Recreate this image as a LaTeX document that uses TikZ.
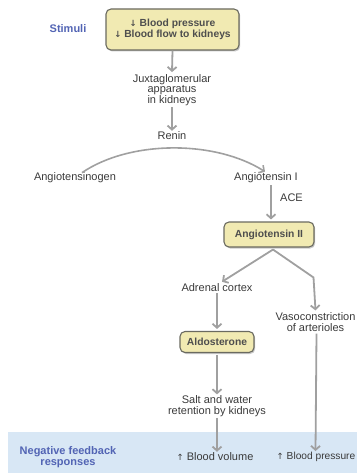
\documentclass[tikz,border=0pt]{standalone}
\usepackage{fontspec}
\setmainfont{Liberation Sans}
\newfontfamily\symfont{DejaVu Sans}
\usetikzlibrary{arrows.meta,shadows,calc}
\definecolor{boxfill}{HTML}{F1EAB2}
\definecolor{boxline}{HTML}{6A6A60}
\definecolor{arrowgray}{HTML}{A0A0A0}
\definecolor{labelblue}{HTML}{5264B4}
\definecolor{bandblue}{HTML}{D8E7F5}
\definecolor{txt}{HTML}{3A3A3A}
\newcommand{\dn}{{\symfont\fontsize{8.5}{8.5}\selectfont ↓}}
\newcommand{\upar}{{\symfont\fontsize{8.5}{8.5}\selectfont ↑}}
\tikzset{
  lbl/.style={font=\fontsize{11}{10.6}\selectfont, text=txt, align=center, inner sep=1pt},
  bluelbl/.style={font=\fontsize{11}{11}\selectfont\bfseries, text=labelblue, align=center, inner sep=1pt},
  ybox/.style={draw=boxline, line width=1.1pt, fill=boxfill, rounded corners=5pt,
    font=\fontsize{10.3}{11}\selectfont\bfseries, text=txt!90, align=center,
    drop shadow={shadow xshift=1.2pt, shadow yshift=-1.5pt, fill=black!35, opacity=0.6}},
  flow/.style={draw=arrowgray, line width=1.8pt, -{Straight Barb[length=4pt,width=9pt]}},
}
\begin{document}
\begin{tikzpicture}[x=1pt,y=-1pt]
\useasboundingbox (0,0) rectangle (357,473);
% band
\fill[bandblue] (8,432) rectangle (357,473);
% nodes
\node[bluelbl] (stim) at (68,29) {Stimuli};
\node[ybox, minimum width=133pt, minimum height=41pt] (bp) at (172.5,29.5) {\dn\ Blood pressure\\\dn\ Blood flow to kidneys};
\node[lbl] (jga) at (172,90) {Juxtaglomerular\\apparatus\\in kidneys};
\node[lbl] (renin) at (172,136) {Renin};
\node[lbl] (agen) at (75,178) {Angiotensinogen};
\node[lbl] (ang1) at (266,178) {Angiotensin I};
\node[lbl, anchor=west] (ace) at (279,198) {ACE};
\node[ybox, minimum width=90pt, minimum height=25pt] (ang2) at (269,234.5) {Angiotensin II};
\node[lbl] (adr) at (217,288) {Adrenal cortex};
\node[lbl] (vaso) at (315.5,322) {Vasoconstriction\\of arterioles};
\node[ybox, minimum width=74pt, minimum height=21pt] (ald) at (217,342) {Aldosterone};
\node[lbl] (salt) at (217,406) {Salt and water\\retention by kidneys};
\node[bluelbl] (neg) at (68,457) {Negative feedback\\responses};
\node[lbl] (bv) at (215,457) {\upar\ Blood volume};
\node[lbl, font=\fontsize{10.2}{10.6}\selectfont, anchor=east] (bpr) at (356.5,457) {\upar\ Blood pressure};
% connectors
\coordinate (arcs) at ($(agen.north)+(7,1)$);
\coordinate (arce) at ($(ang1.north)+(-1,0)$);
\coordinate (bend) at ($(vaso.north)+(-2,-34)$);
\draw[flow] (bp.south) -- ($(jga.north)+(0,-1)$);
\draw[flow] (jga.south) -- (renin.north);
\draw[draw=arrowgray, line width=1.6pt, -{Straight Barb[length=4pt,width=9pt]}] (arcs) .. controls (130,140) and (215,140) .. (arce);
\draw[flow] ($(ang1.south)+(5,1)$) -- ($(ang2.north)+(2,-2)$);
\draw[flow] ($(ang2.south)+(4,2)$) -- ($(adr.north)+(5,-1)$);
\draw[draw=arrowgray, line width=1.8pt, -{Straight Barb[length=4pt,width=9pt]}] ($(ang2.south)+(4,2)$) -- (bend) -- ($(vaso.north)+(0,-1)$);
\draw[flow] (adr.south) -- ($(ald.north)+(0,-2)$);
\draw[flow] ($(ald.south)+(0,2)$) -- (salt.north);
\draw[flow] (salt.south) -- ($(bv.north)+(2,0)$);
\draw[flow] ($(vaso.south)+(1,1)$) -- (bpr.north -| vaso.south);
\end{tikzpicture}
\end{document}
